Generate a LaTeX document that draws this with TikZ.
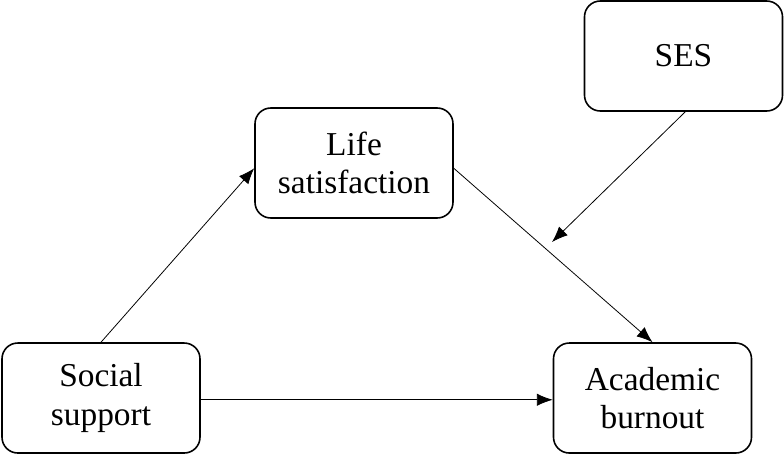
\documentclass[tikz,border=0pt]{standalone}
\usepackage{fontspec}
\setmainfont{Liberation Serif}
\usetikzlibrary{arrows.meta}

\begin{document}
\begin{tikzpicture}[every node/.style={font=\fontsize{19}{22}\selectfont},
	box/.style={draw, line width=0.9pt, rounded corners=9pt, minimum width=3.96cm, minimum height=2.2cm, align=center},
	link/.style={-{Latex[length=9pt,width=7pt]}, line width=0.45pt}]
	\useasboundingbox (0,0) rectangle (15.68,-9.14);
	\node[box] (ses) at (13.67,-1.12) {SES};
	\node[box] (life) at (7.08,-3.26) {Life\\satisfaction};
	\node[box] (social) at (2.02,-7.96) {Social\\support};
	\node[box] (burnout) at (13.05,-7.96) {Academic\\burnout};
	\coordinate (mod) at (11.04,-4.84);
	\draw[link] (social.north) -- ([yshift=-3pt]life.west);
	\draw[link] ([yshift=-3pt]life.east) -- (burnout.north);
	\draw[link] ([yshift=-1pt]social.east) -- ([yshift=-1pt]burnout.west);
	\draw[link] ([xshift=1pt]ses.south) -- (mod);
\end{tikzpicture}
\end{document}
